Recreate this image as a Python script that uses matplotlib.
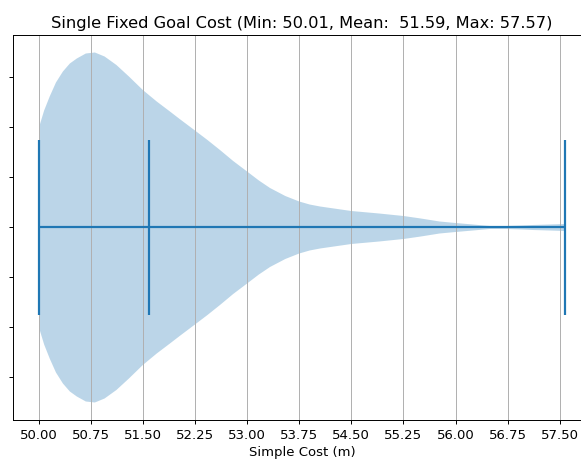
import numpy as np
import matplotlib
matplotlib.use("Agg")
import matplotlib.pyplot as plt

# cost summary
cost_min = 50.01
cost_mean = 51.59
cost_median = 51.25
cost_max = 57.57

# density profile (relative half-widths)
cost_coords = [50.01, 50.08, 50.16, 50.25, 50.35, 50.45, 50.55, 50.68, 50.81,
               50.95, 51.12, 51.30, 51.50, 51.70, 51.89, 52.03, 52.25, 52.43,
               52.61, 52.80, 53.00, 53.17, 53.33, 53.55, 53.75, 53.90, 54.05,
               54.50, 54.90, 55.25, 55.50, 55.77, 56.00, 56.25, 56.49, 56.73,
               56.95, 57.11, 57.35, 57.57]
cost_density = [101, 117, 131, 145, 156, 164, 169, 174, 175,
                171, 162.5, 151, 137.5, 126, 116, 108.5, 97, 87.5,
                77.5, 66.5, 56, 47, 39.5, 31.5, 26, 23, 21,
                16.5, 14, 11.5, 9, 6, 4.5, 3, 1.5, 1.5,
                2, 2.5, 3, 3.5]

x_ticks = [50.00, 50.75, 51.50, 52.25, 53.00, 53.75, 54.50, 55.25, 56.00, 56.75, 57.50]

#---------------------------------------------------------------------------------#

plt.rcParams['font.size'] = 10.8
plt.rcParams['lines.linewidth'] = 1.8

fig = plt.figure(figsize=(581 / 88, 462 / 88), dpi=88)
ax = fig.add_axes([13 / 581, 42 / 462, 578 / 581, 385 / 462])

stats = [{
    'coords': np.array(cost_coords),
    'vals': np.array(cost_density, dtype=float),
    'mean': cost_mean,
    'median': cost_median,
    'min': cost_min,
    'max': cost_max,
}]
ax.violin(stats, positions=[1], orientation='horizontal', widths=0.7,
          showmeans=True, showextrema=True)

ax.set_xticks(x_ticks)
ax.set_xticklabels([f"{t:.2f}" for t in x_ticks])
ax.set_yticklabels([])
ax.grid(axis='x')
ax.set_xlabel("Simple Cost (m)")
ax.set_title(f"Single Fixed Goal Cost (Min: {cost_min:.2f}, Mean: {cost_mean: .2f}, Max: {cost_max:.2f})",
             fontsize=13.3)

fig.savefig("out.png", dpi=88)
